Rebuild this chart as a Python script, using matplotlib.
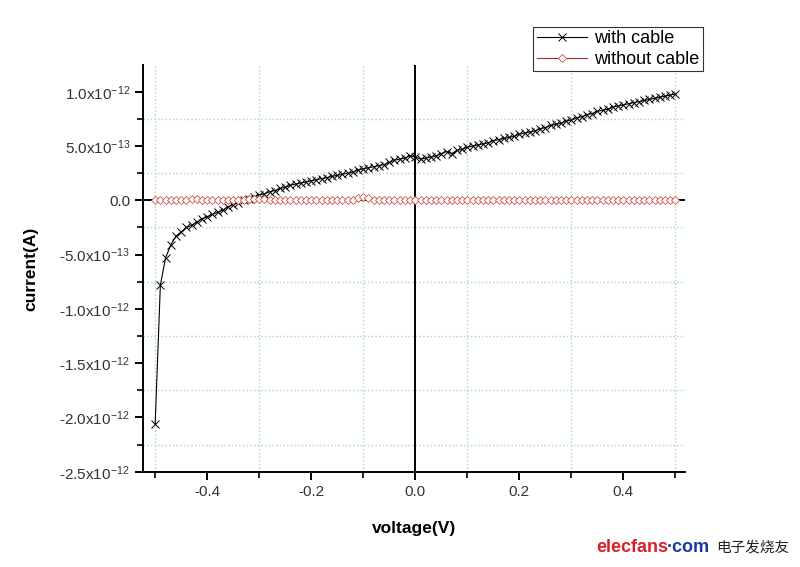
import math
import matplotlib
matplotlib.use("Agg")
import matplotlib.pyplot as plt
from matplotlib.ticker import MultipleLocator, FuncFormatter

plt.rcParams['font.family'] = ['Liberation Sans', 'DejaVu Sans']
plt.rcParams['mathtext.fontset'] = 'custom'
plt.rcParams['mathtext.rm'] = 'Liberation Sans'
plt.rcParams['mathtext.it'] = 'Liberation Sans'

# voltage steps (V)
voltage = [round(-0.5 + 0.01 * i, 2) for i in range(101)]

# current in units of 1e-13 A
with_cable = [
    -20.6, -7.8, -5.3, -4.1, -3.3, -2.9, -2.5, -2.3, -2.0, -1.7,
    -1.5, -1.3, -1.1, -0.9, -0.6, -0.4, -0.2, 0.0, 0.1, 0.3,
    0.5, 0.6, 0.8, 0.9, 1.1, 1.2, 1.4, 1.5, 1.6, 1.7,
    1.8, 1.9, 2.0, 2.1, 2.2, 2.3, 2.4, 2.5, 2.6, 2.8,
    2.9, 3.0, 3.1, 3.2, 3.3, 3.5, 3.7, 3.8, 3.9, 4.1,
    4.0, 3.8, 3.9, 4.0, 4.1, 4.3, 4.5, 4.3, 4.6, 4.7,
    4.9, 5.0, 5.1, 5.2, 5.3, 5.5, 5.6, 5.7, 5.8, 5.9,
    6.1, 6.2, 6.3, 6.4, 6.6, 6.7, 6.9, 7.0, 7.1, 7.3,
    7.4, 7.6, 7.7, 7.9, 8.0, 8.2, 8.3, 8.4, 8.6, 8.7,
    8.8, 8.9, 9.0, 9.1, 9.2, 9.3, 9.4, 9.5, 9.6, 9.7,
    9.8,
]
without_cable = [
    0.0, 0.0, 0.0, 0.0, 0.0, 0.0, 0.0, 0.1, 0.1, 0.0,
    0.0, 0.0, 0.0, 0.0, 0.0, 0.0, 0.0, 0.0, 0.1, 0.1,
    0.15, 0.1, 0.0, 0.0, 0.0, 0.0, 0.0, 0.0, 0.0, 0.0,
    0.0, 0.0, 0.0, 0.0, 0.0, 0.0, 0.0, 0.0, 0.0, 0.2,
    0.35, 0.25, 0.0, 0.0, 0.0, 0.0, 0.0, 0.0, 0.0, 0.0,
    0.0, 0.0, 0.0, 0.0, 0.0, 0.0, 0.0, 0.0, 0.0, 0.0,
    0.0, 0.0, 0.0, 0.0, 0.0, 0.0, 0.0, 0.0, 0.0, 0.0,
    0.0, 0.0, 0.0, 0.0, 0.0, 0.0, 0.0, 0.0, 0.0, 0.0,
    0.0, 0.0, 0.0, 0.0, 0.0, 0.0, 0.0, 0.0, 0.0, 0.0,
    0.0, 0.0, 0.0, 0.0, 0.0, 0.0, 0.0, 0.0, 0.0, 0.0,
    0.0,
]

with_a = [v * 1e-13 for v in with_cable]
without_a = [v * 1e-13 for v in without_cable]

fig = plt.figure(figsize=(8, 5.67), dpi=100)
ax = fig.add_axes([0.179, 0.168, 0.677, 0.717])

ax.set_xlim(-0.523, 0.518)
ax.set_ylim(-2.5e-12, 1.245e-12)

# grid on the minor positions, light green dotted
ax.xaxis.set_major_locator(MultipleLocator(0.2))
ax.xaxis.set_minor_locator(MultipleLocator(0.1))
ax.yaxis.set_major_locator(MultipleLocator(0.5e-12))
ax.yaxis.set_minor_locator(MultipleLocator(0.25e-12))
ax.grid(which='minor', color='#a8dca8', linestyle=':', linewidth=1.0)
ax.set_axisbelow(True)

# axes through the origin
ax.axhline(0, color='black', lw=1.4, zorder=1)
ax.axvline(0, color='black', lw=1.4, zorder=1)

l1, = ax.plot(voltage, with_a, color='black', lw=0.8, marker='x',
              markersize=5.5, markeredgewidth=0.7, label='with cable', zorder=3)
l2, = ax.plot(voltage, without_a, color='#a03030', lw=0.8, marker='D',
              markersize=4.5, markeredgewidth=0.6, markerfacecolor='white',
              markeredgecolor='#d05050', label='without cable', zorder=3)


def yfmt(v, pos):
    if abs(v) < 1e-20:
        return '0.0'
    exp = math.floor(math.log10(abs(v)) + 1e-9)
    m = v / 10 ** exp
    return '%.1fx10$^{%d}$' % (m, exp)


ax.yaxis.set_major_formatter(FuncFormatter(yfmt))
ax.xaxis.set_major_formatter(FuncFormatter(lambda v, p: '%.1f' % v))

for s in ['top', 'right']:
    ax.spines[s].set_visible(False)
for s in ['left', 'bottom']:
    ax.spines[s].set_linewidth(1.4)

ax.tick_params(which='major', direction='out', length=6, width=1.4,
               labelsize=11, labelcolor='#333333')
ax.tick_params(which='minor', direction='out', length=4, width=1.2)

ax.set_xlabel('voltage(V)', fontsize=12.5, fontweight='bold')
ax.set_ylabel('current(A)', fontsize=12.5, fontweight='bold')
ax.xaxis.set_label_coords(0.5, -0.12)
ax.yaxis.set_label_coords(-0.194, 0.5)

leg = fig.legend(handles=[l1, l2], loc='upper right',
                 bbox_to_anchor=(0.879, 0.953), fontsize=13,
                 frameon=True, fancybox=False, edgecolor='black',
                 handlelength=2.8, handletextpad=0.4, borderpad=0.2,
                 labelspacing=0.2, borderaxespad=0)
leg.get_frame().set_linewidth(0.8)

# watermark
fig.text(0.745, 0.035, 'elecfans', color='#d8202a', fontsize=13,
         fontweight='bold', ha='left', va='center')
fig.text(0.834, 0.035, '·com', color='#1a3a9a', fontsize=13,
         fontweight='bold', ha='left', va='center')
fig.text(0.895, 0.035, '电子发烧友', color='#222222', fontsize=10.5,
         family=['Noto Sans CJK SC', 'DejaVu Sans'], ha='left', va='center')

fig.savefig('out.png', dpi=100)
